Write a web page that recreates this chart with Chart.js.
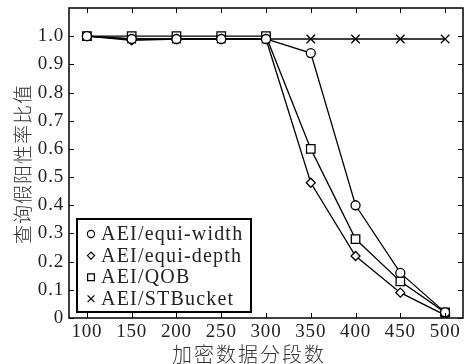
<!DOCTYPE html>
<html>
<head>
<meta charset="utf-8">
<script src="https://cdn.jsdelivr.net/npm/chart.js@4.4.1/dist/chart.umd.min.js"></script>
<style>
  html, body { margin: 0; padding: 0; background: #fff; }
</style>
</head>
<body>
<canvas id="c" width="466" height="364"></canvas>
<script>
// 加密数据分段数 vs 查询假阳性率比值
const segCounts = [100, 150, 200, 250, 300, 350, 400, 450, 500];
const equiWidth = [1.0, 0.99, 0.99, 0.99, 0.99, 0.94, 0.40, 0.16, 0.02];
const equiDepth = [1.0, 0.985, 0.99, 0.99, 0.99, 0.48, 0.22, 0.09, 0.01];
const qob       = [1.0, 1.0, 1.0, 1.0, 1.0, 0.60, 0.28, 0.13, 0.02];
const stBucket  = [1.0, 0.99, 0.99, 0.99, 0.99, 0.99, 0.99, 0.99, 0.99];
const yTicks    = [0, 0.1, 0.2, 0.3, 0.4, 0.5, 0.6, 0.7, 0.8, 0.9, 1.0];
const seriesNames = ["AEI/equi-width", "AEI/equi-depth", "AEI/QOB", "AEI/STBucket"];

const SERIF = "'Liberation Serif', 'DejaVu Serif', serif";
const CJK = "'Noto Sans CJK SC', sans-serif";
Chart.defaults.font.family = SERIF;

function pts(ys) { return segCounts.map((x, i) => ({ x: x, y: ys[i] })); }

function ds(label, ys, style, r) {
  return {
    label: label, data: pts(ys), pointStyle: style, pointRadius: r,
    borderColor: "#000", backgroundColor: "#fff", borderWidth: 1.3,
    pointBorderWidth: 1.3, pointBackgroundColor: "#fff", tension: 0
  };
}

// 刻度数字略加字距（原图为 CM 字体，较宽）
const spacing = {
  id: "spacing",
  beforeDraw(chart) { chart.ctx.letterSpacing = "0.8px"; }
};

// 坐标框 + 向内刻度 + 标题 + 图例
const decor = {
  id: "decor",
  afterDraw(chart) {
    const ctx = chart.ctx, a = chart.chartArea;
    const xs = chart.scales.x, ys = chart.scales.y;
    ctx.save();
    ctx.strokeStyle = "#000";
    ctx.lineWidth = 1.5;
    ctx.strokeRect(a.left, a.top, a.right - a.left, a.bottom - a.top);
    ctx.lineWidth = 1;
    ctx.beginPath();
    segCounts.forEach(v => {
      const px = Math.round(xs.getPixelForValue(v)) + 0.5;
      ctx.moveTo(px, a.bottom); ctx.lineTo(px, a.bottom - 5);
      ctx.moveTo(px, a.top); ctx.lineTo(px, a.top + 5);
    });
    yTicks.forEach(v => {
      const py = Math.round(ys.getPixelForValue(v)) + 0.5;
      ctx.moveTo(a.left, py); ctx.lineTo(a.left + 5, py);
      ctx.moveTo(a.right, py); ctx.lineTo(a.right - 5, py);
    });
    ctx.stroke();

    // 轴标题
    ctx.fillStyle = "#333";
    ctx.font = "300 20px " + CJK;
    ctx.textAlign = "center";
    ctx.textBaseline = "middle";
    ctx.letterSpacing = "2px";
    ctx.fillText("加密数据分段数", 249, 354);
    ctx.save();
    ctx.translate(23, 164);
    ctx.rotate(-Math.PI / 2);
    ctx.font = "300 19px " + CJK;
    ctx.letterSpacing = "1px";
    ctx.fillText("查询假阳性率比值", 0, 0);
    ctx.restore();

    // 图例
    const bx = 77, by = 219, bw = 174, bh = 93;
    ctx.fillStyle = "#fff";
    ctx.fillRect(bx, by, bw, bh);
    ctx.lineWidth = 2;
    ctx.strokeStyle = "#000";
    ctx.strokeRect(bx, by, bw, bh);
    ctx.font = "20px " + SERIF;
    ctx.textAlign = "left";
    chart.data.datasets.forEach((d, i) => {
      const cy = 234 + i * 21.6;
      ctx.letterSpacing = "0px";
      ctx.lineWidth = 1.2;
      ctx.strokeStyle = "#000";
      ctx.fillStyle = "#fff";
      Chart.helpers.drawPoint(ctx, {
        pointStyle: d.pointStyle, radius: d.pointRadius * 0.8, rotation: 0, borderWidth: 1.2
      }, 91, cy);
      ctx.fillStyle = "#222";
      ctx.letterSpacing = "1.2px";
      ctx.fillText(d.label, 101, cy + 1);
    });
    ctx.restore();
  }
};

new Chart(document.getElementById("c"), {
  type: "line",
  data: {
    datasets: [
      ds(seriesNames[0], equiWidth, "circle", 4.5),
      ds(seriesNames[1], equiDepth, "rectRot", 4.5),
      ds(seriesNames[2], qob, "rect", 6),
      ds(seriesNames[3], stBucket, "crossRot", 6)
    ]
  },
  options: {
    responsive: false,
    animation: false,
    devicePixelRatio: 1,
    layout: { autoPadding: false, padding: { top: 8, right: 3, left: 0, bottom: 0 } },
    plugins: { legend: { display: false }, tooltip: { enabled: false } },
    scales: {
      x: {
        type: "linear", min: 80, max: 520,
        afterBuildTicks: s => { s.ticks = segCounts.map(v => ({ value: v })); },
        afterFit: s => { s.height = 46; s.paddingLeft = 0; s.paddingRight = 0; },
        grid: { display: false, drawTicks: false, tickLength: 0 }, border: { display: false },
        ticks: { padding: 3, color: "#222", font: { family: SERIF, size: 19 }, maxRotation: 0 }
      },
      y: {
        min: 0, max: 1.1,
        afterBuildTicks: s => { s.ticks = yTicks.map(v => ({ value: v })); },
        afterFit: s => { s.width = 69; s.paddingTop = 0; s.paddingBottom = 0; },
        grid: { display: false, drawTicks: false, tickLength: 0 }, border: { display: false },
        ticks: {
          padding: 5, color: "#222", font: { family: SERIF, size: 19 },
          callback: v => (v === 0 ? "0" : v.toFixed(1))
        }
      }
    }
  },
  plugins: [spacing, decor]
});
</script>
</body>
</html>
